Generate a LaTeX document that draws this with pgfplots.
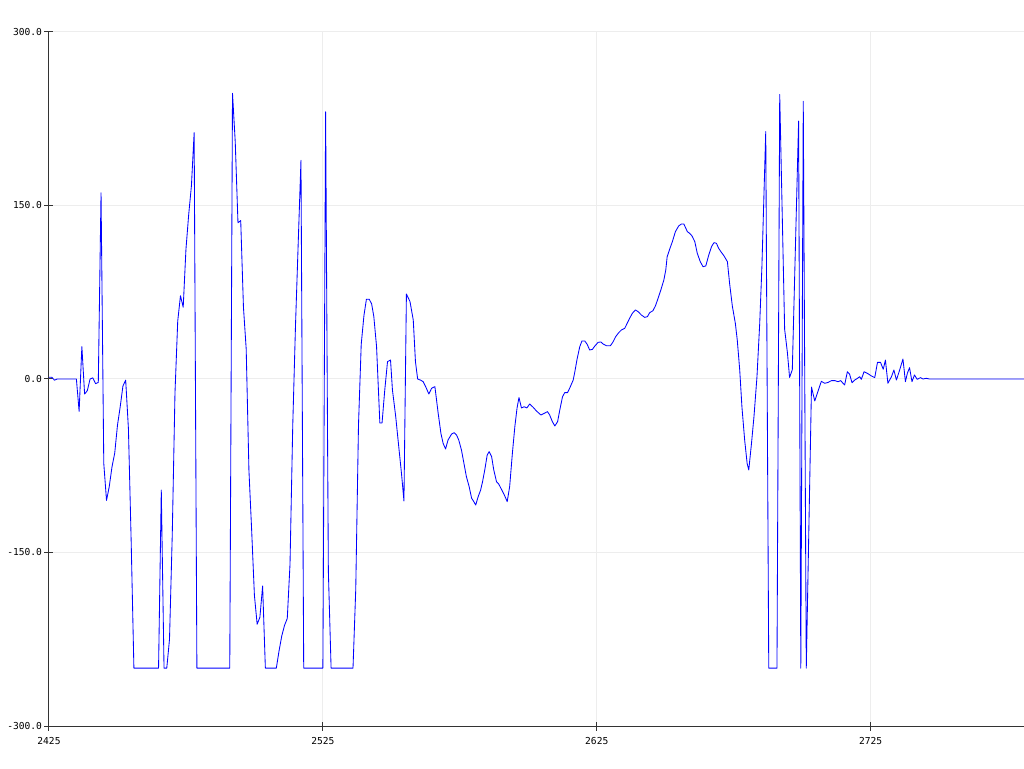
\documentclass[border=0pt]{standalone}
\usepackage{fontspec}
\usepackage{pgfplots}
\pgfplotsset{compat=1.18}
\newfontfamily\monofont{DejaVu Sans Mono}

\begin{document}
\begin{tikzpicture}
\begin{axis}[
  at={(0pt,0pt)}, anchor=south west,
  scale only axis, width=975pt, height=694pt,
  xmin=2425, xmax=2781, ymin=-300, ymax=300,
  axis x line*=bottom, axis y line*=left,
  axis line style={black!80, line width=1pt},
  xtick={2425,2525,2625,2725},
  xticklabels={2425,2525,2625,2725},
  ytick={-300,-150,0,150,300},
  yticklabels={-300.0,-150.0,0.0,150.0,300.0},
  tick align=center, major tick length=9pt,
  tick style={black!80, line width=1pt},
  grid=major, major grid style={black!7, line width=1pt},
  ticklabel style={font=\monofont\fontsize{9.6}{11}\selectfont},
  xticklabel style={yshift=-3pt},
  yticklabel style={xshift=1pt},
]
\addplot[blue, line width=0.85pt, line join=round, mark=none] coordinates {
(2425,1.5) (2426,1.5) (2427,-1) (2428,0) (2435,0)
(2436,-28) (2437,28) (2438,-13) (2439,-10) (2440,0) (2441,1) (2442,-4) (2443,-3)
(2444,161) (2445,-73) (2446,-105) (2447,-93) (2448,-76) (2449,-64) (2450,-40)
(2451,-24) (2452,-6) (2453,-1) (2454,-43) (2455,-140) (2456,-250) (2465,-250)
(2466,-96) (2467,-250) (2468,-250) (2469,-225) (2470,-135) (2471,-12) (2472,50)
(2473,72) (2474,62) (2475,112) (2476,142) (2477,167) (2478,213) (2479,-250)
(2491,-250) (2492,247) (2493,205) (2494,135) (2495,137) (2496,62) (2497,26)
(2498,-79) (2499,-131) (2500,-187) (2501,-212) (2502,-206) (2503,-179) (2504,-250)
(2508,-250) (2509,-235) (2510,-222) (2511,-213) (2512,-207) (2513,-160) (2514,-40)
(2515,46) (2516,118) (2517,189) (2518,-250) (2525,-250) (2526,231) (2527,-166)
(2528,-250) (2536,-250) (2537,-182) (2538,-40) (2539,30) (2540,55)
(2540.9,69) (2541.9,69) (2542.8,65) (2543.6,54) (2544.6,28) (2545.8,-38) (2546.6,-38)
(2547.6,-9.5) (2548.6,15) (2549.7,16.4) (2550.4,-9.5) (2551.6,-32.6) (2552.7,-58.5)
(2553.7,-81.6) (2554.6,-105.5) (2555.5,73.5) (2556.8,67) (2558,51) (2558.8,15)
(2559.6,0) (2560.7,-1) (2561.6,-2.3) (2562.6,-7) (2563.7,-13) (2564.7,-8) (2565.9,-6.6)
(2567.1,-29.7) (2568.1,-47) (2568.9,-55.6) (2569.8,-60.5) (2570.7,-52.7)
(2572,-47.6) (2572.9,-46.4) (2573.8,-48.4) (2574.6,-52.7) (2575.6,-61.4) (2576.5,-72.9)
(2577.4,-84.4) (2578.4,-93) (2579.3,-103) (2580.1,-106) (2580.8,-109) (2581.7,-101.7)
(2582.6,-96) (2583.3,-88.8) (2584.1,-78.7) (2585,-65.7) (2585.7,-62.8) (2586.6,-67)
(2587.4,-78.7) (2588.4,-88.8) (2589.2,-90.8) (2590.2,-95.4) (2591.2,-100) (2592.3,-106)
(2593.2,-93) (2594.2,-64) (2595.1,-41) (2595.9,-25) (2596.6,-16) (2597.5,-25)
(2598.5,-24) (2599.5,-25) (2600.5,-21.6) (2601.8,-24.5) (2603,-27.7) (2604.6,-31.1)
(2605.8,-29.7) (2607,-28.2) (2607.8,-31.1) (2608.8,-36.9) (2609.7,-40.6) (2610.7,-36.9)
(2611.5,-26.8) (2612.5,-15.3) (2613.3,-11.8) (2614.3,-11.8) (2615.1,-8) (2616.4,-0.9)
(2617,6.3) (2617.8,17) (2618.8,28) (2619.6,32.9) (2620.6,32.9) (2621.5,30) (2622.4,25.1)
(2623.4,25.6) (2624.3,28.5) (2625.5,31.7) (2626.5,32) (2627.3,30.3) (2628.5,28.8)
(2630,28.8) (2631,32.3) (2631.9,36.6) (2633,40) (2634,42.4) (2635.2,43.8) (2636.1,48.1)
(2637,52.5) (2638,56.8) (2639.1,59.7) (2640.1,58.2) (2641.3,55.3) (2642.5,53.3)
(2643.5,53.9) (2644.3,57.3) (2645.5,59) (2646.4,63.1) (2647.4,69.8) (2648.4,77)
(2649.5,85.6) (2650.2,94.2) (2650.7,105.7) (2651.6,112.1) (2652.6,118.7) (2653.7,127.3)
(2654.9,132.3) (2655.9,134) (2656.8,134) (2658.1,127.3) (2658.9,126) (2659.8,123.6)
(2660.8,118.7) (2661.7,108.7) (2662.8,101.4) (2663.8,97.1) (2664.8,97.7) (2665.9,107.2)
(2666.9,114.4) (2667.8,117.9) (2668.7,117.3) (2669.5,113) (2670.5,109.5) (2671.5,106.3)
(2672.7,101.4) (2673.5,82.7) (2674.5,63.1) (2675.6,48.1) (2676.3,33.7) (2677.2,7.8)
(2678,-23.9) (2679,-52.7) (2679.9,-72.9) (2680.5,-78.7) (2681.5,-55.6) (2682.4,-32.6)
(2683.5,2) (2684.5,48.1) (2685.3,97.1) (2686.7,214) (2687.8,-250) (2690.8,-250)
(2691.8,246) (2693.6,43) (2694.6,23) (2695.4,1.4) (2696.4,8) (2698.7,223) (2699.5,-250)
(2700.4,240) (2701.5,-250) (2703.4,-7) (2704.6,-19) (2705.8,-10.5) (2707,-2)
(2708.2,-3.7) (2709.4,-3) (2710.7,-1.4) (2711.9,-1.4) (2713.1,-2.3) (2714.1,-1.4)
(2714.9,-3.7) (2715.5,-5.2) (2716.5,6.3) (2717.3,4.3) (2718.2,-3.2) (2719.2,-0.9)
(2720.2,0.6) (2721,2) (2721.6,-0.3) (2722.6,6.3) (2723.8,4.9) (2725.3,2.6) (2726.5,1.2)
(2727.5,14.4) (2728.6,14.4) (2729.6,8.4) (2730.4,16.4) (2731.3,-3.7) (2732.6,2)
(2733.5,7.8) (2734.4,-0.9) (2735.4,6.3) (2736.8,17.3) (2737.7,-2.3) (2738.4,4.9)
(2739.2,9.8) (2740.1,-2.3) (2741,3.5) (2742,-0.3) (2743.2,1.2) (2744.1,0) (2745.3,0.6)
(2746.5,0) (2781,0)
};
\end{axis}
\pgfresetboundingbox
\useasboundingbox (-49pt,-42pt) rectangle (975pt,726pt);
\end{tikzpicture}
\end{document}
